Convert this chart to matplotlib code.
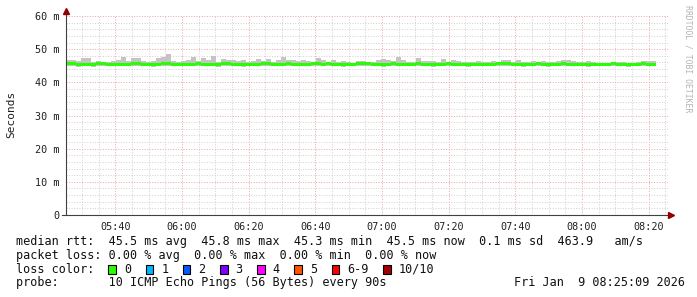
import numpy as np
import matplotlib
matplotlib.use("Agg")
import matplotlib.pyplot as plt
from matplotlib.patches import Rectangle

W, H = 697, 297
MONO = "DejaVu Sans Mono"

# time axis: minutes since midnight, first sample at 05:25:09, 90s steps
t_start = 5 * 60 + 25.15
step = 1.5

# median rtt per step (ms)
median = [45.6, 45.6, 45.3, 45.5, 45.5, 45.3, 45.6, 45.6, 45.5, 45.5,
          45.5, 45.4, 45.5, 45.6, 45.6, 45.5, 45.5, 45.3, 45.5, 45.6,
          45.6, 45.5, 45.5, 45.5, 45.5, 45.5, 45.6, 45.5, 45.5, 45.5,
          45.3, 45.6, 45.6, 45.5, 45.5, 45.3, 45.5, 45.5, 45.5, 45.6,
          45.6, 45.5, 45.5, 45.5, 45.8, 45.5, 45.5, 45.5, 45.5, 45.6,
          45.6, 45.5, 45.8, 45.5, 45.5, 45.3, 45.5, 45.5, 45.6, 45.8,
          45.8, 45.5, 45.5, 45.3, 45.5, 45.6, 45.5, 45.5, 45.5, 45.5,
          45.6, 45.5, 45.5, 45.3, 45.5, 45.5, 45.6, 45.5, 45.5, 45.5,
          45.3, 45.5, 45.5, 45.5, 45.5, 45.5, 45.8, 45.8, 45.6, 45.5,
          45.5, 45.3, 45.5, 45.5, 45.6, 45.5, 45.3, 45.5, 45.5, 45.6,
          45.5, 45.5, 45.5, 45.5, 45.3, 45.5, 45.5, 45.5, 45.5, 45.6,
          45.5, 45.5, 45.3, 45.5, 45.5, 45.6, 45.5, 45.5]

# upper edge of the smoke (slowest ping) per step (ms)
smoke_top = [46.7, 46.7, 46.5, 47.3, 47.3, 46.2, 46.4, 46.2, 46.2, 46.5,
             46.7, 47.6, 46.5, 47.2, 47.2, 46.3, 46.1, 46.3, 47.2, 47.5,
             48.4, 46.3, 46.0, 46.5, 46.7, 47.7, 46.5, 47.3, 46.8, 47.9,
             46.2, 47.0, 46.7, 46.7, 46.3, 46.6, 46.1, 46.4, 47.0, 46.5,
             46.9, 46.2, 46.7, 47.6, 46.7, 46.7, 46.4, 46.7, 46.4, 46.0,
             47.4, 46.7, 46.2, 46.7, 46.0, 46.4, 46.0, 45.9, 46.4, 46.4,
             46.0, 46.0, 46.7, 47.0, 46.7, 46.4, 47.7, 46.7, 46.2, 46.2,
             47.4, 46.4, 46.4, 46.4, 46.0, 47.0, 46.2, 46.7, 46.4, 46.0,
             46.0, 46.0, 46.4, 46.2, 46.0, 46.4, 46.0, 46.7, 46.7, 46.2,
             46.7, 46.0, 46.0, 46.4, 46.0, 46.4, 46.0, 46.0, 46.4, 46.7,
             46.7, 46.4, 46.0, 46.0, 46.4, 46.0, 45.9, 45.9, 45.9, 45.9,
             46.0, 46.0, 45.9, 45.9, 46.0, 46.4, 46.4, 46.4]

# lower edge of the smoke (fastest ping) per step (ms)
smoke_bot = [45.0] * len(median)
for k in (2, 5, 17, 30, 35, 55, 63, 73, 80, 91, 96, 104, 112):
    smoke_bot[k] = 44.7

x_ticks = [340, 360, 380, 400, 420, 440, 460, 480, 500]
x_labels = ["05:40", "06:00", "06:20", "06:40", "07:00", "07:20", "07:40", "08:00", "08:20"]
y_ticks = [0, 10, 20, 30, 40, 50, 60]
y_labels = ["0", "10 m", "20 m", "30 m", "40 m", "50 m", "60 m"]

loss_labels = ["0", "1", "2", "3", "4", "5", "6-9", "10/10"]
loss_colors = ["#26ff00", "#00b8ff", "#0059ff", "#7e00ff", "#ff00ff", "#ff5500", "#ff0000", "#a10000"]

legend_rows = [
    "median rtt:  45.5 ms avg  45.8 ms max  45.3 ms min  45.5 ms now  0.1 ms sd  463.9   am/s",
    "packet loss: 0.00 % avg  0.00 % max  0.00 % min  0.00 % now",
    "loss color:",
    "probe:       10 ICMP Echo Pings (56 Bytes) every 90s",
]
stamp = "Fri Jan  9 08:25:09 2026"

fig = plt.figure(figsize=(W / 100, H / 100), dpi=100)
fig.patch.set_facecolor("white")

# plot area in pixels
left, right, top, bottom = 66, 668, 16, 215
ax = fig.add_axes([left / W, 1 - bottom / H, (right - left) / W, (bottom - top) / H])
px_per_min = 3.3333
ax.set_xlim(t_start, t_start + (right - left) / px_per_min)
ax.set_ylim(0, 60)
for s in ax.spines.values():
    s.set_visible(False)

# grid: minor every 5 min / 2 ms, major every 20 min / 10 ms
dot = (0, (1, 1.6))
for t in np.arange(325, 506, 5):
    if t < t_start:
        continue
    major = t % 20 == 0
    ax.axvline(t, color="#e6a8a8" if major else "#d2d2d2", lw=0.72, ls=dot, zorder=1)
for v in range(2, 61, 2):
    major = v % 10 == 0
    ax.axhline(v, color="#e6a8a8" if major else "#d2d2d2", lw=0.72, ls=dot, zorder=1)

edges = t_start + step * np.arange(len(median) + 1)
med = np.array(median)
ax.stairs(smoke_top, edges, baseline=smoke_bot, fill=True, color="#c4c4c4", lw=0, zorder=2)
ax.stairs(med + 0.45, edges, baseline=med - 0.45, fill=True, color="#26ff00", lw=0, zorder=3)

# axes with arrows
ax.plot([0, 0], [0, 1 + 5 / 199], transform=ax.transAxes, color="#404040", lw=0.8, clip_on=False, zorder=5)
ax.plot([-4 / 602, 1], [0, 0], transform=ax.transAxes, color="#404040", lw=0.8, clip_on=False, zorder=5)
ax.plot([0], [1 + 5 / 199], transform=ax.transAxes, marker="^", ms=4, color="#900000", clip_on=False, zorder=6)
ax.plot([1 + 3 / 602], [0], transform=ax.transAxes, marker=">", ms=4, color="#900000", clip_on=False, zorder=6)

ax.set_xticks(x_ticks)
ax.set_xticklabels(x_labels, family=MONO, fontsize=7.3, color="#202020")
ax.set_yticks(y_ticks)
ax.set_yticklabels(y_labels, family=MONO, fontsize=7.3, color="#202020")
ax.tick_params(axis="both", length=0)
ax.tick_params(axis="x", pad=5)
ax.tick_params(axis="y", pad=4.5)

fig.text(11 / W, 1 - 114 / H, "Seconds", rotation=90, family=MONO, fontsize=8,
         ha="center", va="center", color="#202020")
fig.text(688 / W, 1 - 59 / H, "RRDTOOL / TOBI OETIKER", rotation=270, family=MONO,
         fontsize=5.9, ha="center", va="center", color="#b4b4b4")

# legend block under the graph
cw = 7.115
row_y = [241.7, 255.2, 269.3, 282.7]
for txt, y in zip(legend_rows, row_y):
    fig.text(16 / W, 1 - y / H, txt, family=MONO, fontsize=8.5, ha="left", va="center", color="#101010")
fig.text(514 / W, 1 - row_y[3] / H, stamp, family=MONO, fontsize=8.5, ha="left", va="center", color="#101010")

bx = 108.3
for lab, col in zip(loss_labels, loss_colors):
    fig.add_artist(Rectangle((bx / W, 1 - (row_y[2] + 4.2) / H), 7.7 / W, 8.3 / H,
                             transform=fig.transFigure, fc=col, ec="black", lw=0.8))
    lx = bx + 15.7
    fig.text(lx / W, 1 - row_y[2] / H, lab, family=MONO, fontsize=8.5, ha="left", va="center", color="#101010")
    bx = lx + len(lab) * cw + 14.4

fig.savefig("out.png", dpi=100)
